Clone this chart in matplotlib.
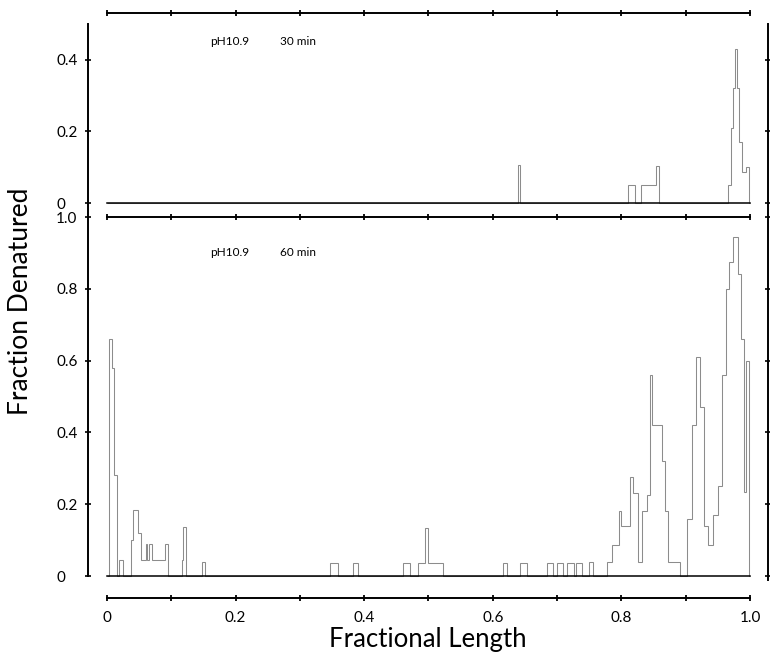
import matplotlib
matplotlib.use("Agg")
import matplotlib.pyplot as plt
from matplotlib.ticker import MultipleLocator

plt.rcParams["font.family"] = ["Lato", "DejaVu Sans"]

# ---------------------------------------------------------------------------
# Data: denaturation profiles (bin edges along molecule, fraction denatured)
# ---------------------------------------------------------------------------
edges_30 = [0.0, 0.639, 0.643, 0.810, 0.821, 0.830, 0.854, 0.858, 0.966,
            0.970, 0.974, 0.977, 0.980, 0.983, 0.988, 0.994, 0.999, 1.0]
frac_30 = [0, 0.106, 0, 0.05, 0, 0.05, 0.103, 0, 0.05,
           0.21, 0.32, 0.43, 0.32, 0.17, 0.087, 0.10, 0]

edges_60 = [0.000, 0.003, 0.008, 0.011, 0.015, 0.019, 0.025, 0.037, 0.040,
            0.048, 0.053, 0.060, 0.063, 0.066, 0.070, 0.090, 0.095, 0.116,
            0.119, 0.123, 0.148, 0.152, 0.347, 0.359, 0.383, 0.390, 0.460,
            0.471, 0.484, 0.495, 0.499, 0.522, 0.616, 0.622, 0.642, 0.653,
            0.684, 0.694, 0.700, 0.709, 0.715, 0.727, 0.730, 0.739, 0.750,
            0.756, 0.778, 0.785, 0.796, 0.800, 0.813, 0.818, 0.826, 0.832,
            0.840, 0.844, 0.848, 0.863, 0.868, 0.873, 0.891, 0.902, 0.910,
            0.916, 0.922, 0.928, 0.935, 0.942, 0.950, 0.957, 0.962, 0.967,
            0.974, 0.981, 0.986, 0.990, 0.994, 0.998, 1.000]
frac_60 = [0, 0.66, 0.58, 0.28, 0, 0.045, 0, 0.10, 0.185,
           0.12, 0.045, 0.09, 0.045, 0.09, 0.045, 0.09, 0, 0.045,
           0.137, 0, 0.04, 0, 0.037, 0, 0.037, 0, 0.037,
           0, 0.037, 0.134, 0.037, 0, 0.037, 0, 0.037, 0,
           0.037, 0, 0.037, 0, 0.037, 0, 0.037, 0, 0.04,
           0, 0.04, 0.085, 0.18, 0.14, 0.275, 0.23, 0.04, 0.18,
           0.225, 0.56, 0.42, 0.32, 0.18, 0.04, 0, 0.16, 0.42,
           0.61, 0.47, 0.14, 0.085, 0.17, 0.25, 0.56, 0.80, 0.875,
           0.945, 0.84, 0.66, 0.235, 0.60, 0]

xticks = [0, 0.2, 0.4, 0.6, 0.8, 1.0]
xtick_labels = ["0", "0.2", "0.4", "0.6", "0.8", "1.0"]
yticks_30 = [0, 0.2, 0.4]
ytick_labels_30 = ["0", "0.2", "0.4"]
yticks_60 = [0, 0.2, 0.4, 0.6, 0.8, 1.0]
ytick_labels_60 = ["0", "0.2", "0.4", "0.6", "0.8", "1.0"]

# ---------------------------------------------------------------------------
# Figure
# ---------------------------------------------------------------------------
fig = plt.figure(figsize=(7.7, 6.56), dpi=100)
ax_top = fig.add_axes([0.1143, 0.6692, 0.8831, 0.311])
ax_bot = fig.add_axes([0.1143, 0.0884, 0.8831, 0.5808])

XLIM = (-0.0295, 1.028)
step_kw = dict(color="#8c8c8c", lw=0.75)


def style_axes(ax, yticks, ylabels, ylo, ytop_bound, show_bottom):
    ax.set_xlim(*XLIM)
    for s in ax.spines.values():
        s.set_linewidth(1.4)
        s.set_color("black")
    ax.spines["top"].set_bounds(0, 1)
    ax.spines["bottom"].set_bounds(0, 1)
    ax.spines["bottom"].set_visible(show_bottom)
    ax.spines["left"].set_bounds(ylo, ytop_bound)
    ax.spines["right"].set_bounds(ylo, ytop_bound)

    ax.set_xticks(xticks, xtick_labels if show_bottom else [])
    ax.xaxis.set_minor_locator(MultipleLocator(0.1))
    ax.tick_params(axis="x", which="both", top=True, bottom=show_bottom,
                   labelbottom=show_bottom, direction="inout", length=4,
                   width=1.3, labelsize=11, pad=7)

    ax.set_yticks(yticks, ylabels, ha="left")
    ax.tick_params(axis="y", left=True, right=True, direction="inout",
                   length=4, width=1.2, labelsize=11, pad=21)


ax_top.stairs(frac_30, edges_30, **step_kw)
ax_top.plot([edges_30[0], edges_30[-1]], [0, 0], color="black", lw=1.1)
ax_top.set_ylim(-0.039, 0.5307)
style_axes(ax_top, yticks_30, ytick_labels_30, -0.039, 0.5, False)
ax_top.text(0.160, 0.45, "pH10.9", fontsize=8.5, va="center")
ax_top.text(0.269, 0.45, "30 min", fontsize=8.5, va="center")

ax_bot.stairs(frac_60, edges_60, **step_kw)
ax_bot.plot([edges_60[0], edges_60[-1]], [0, 0], color="black", lw=1.1)
ax_bot.set_ylim(-0.0613, 1.0)
style_axes(ax_bot, yticks_60, ytick_labels_60, 0, 1.0, True)
ax_bot.spines["right"].set_bounds(-0.012, 1.0)
ax_bot.text(0.160, 0.90, "pH10.9", fontsize=8.5, va="center")
ax_bot.text(0.269, 0.90, "60 min", fontsize=8.5, va="center")

fig.text(0.026, 0.54, "Fraction Denatured", rotation=90, ha="center",
         va="center", fontsize=19)
fig.text(0.556, 0.025, "Fractional Length", ha="center", va="center",
         fontsize=18.5)

fig.savefig("out.png", dpi=100)
